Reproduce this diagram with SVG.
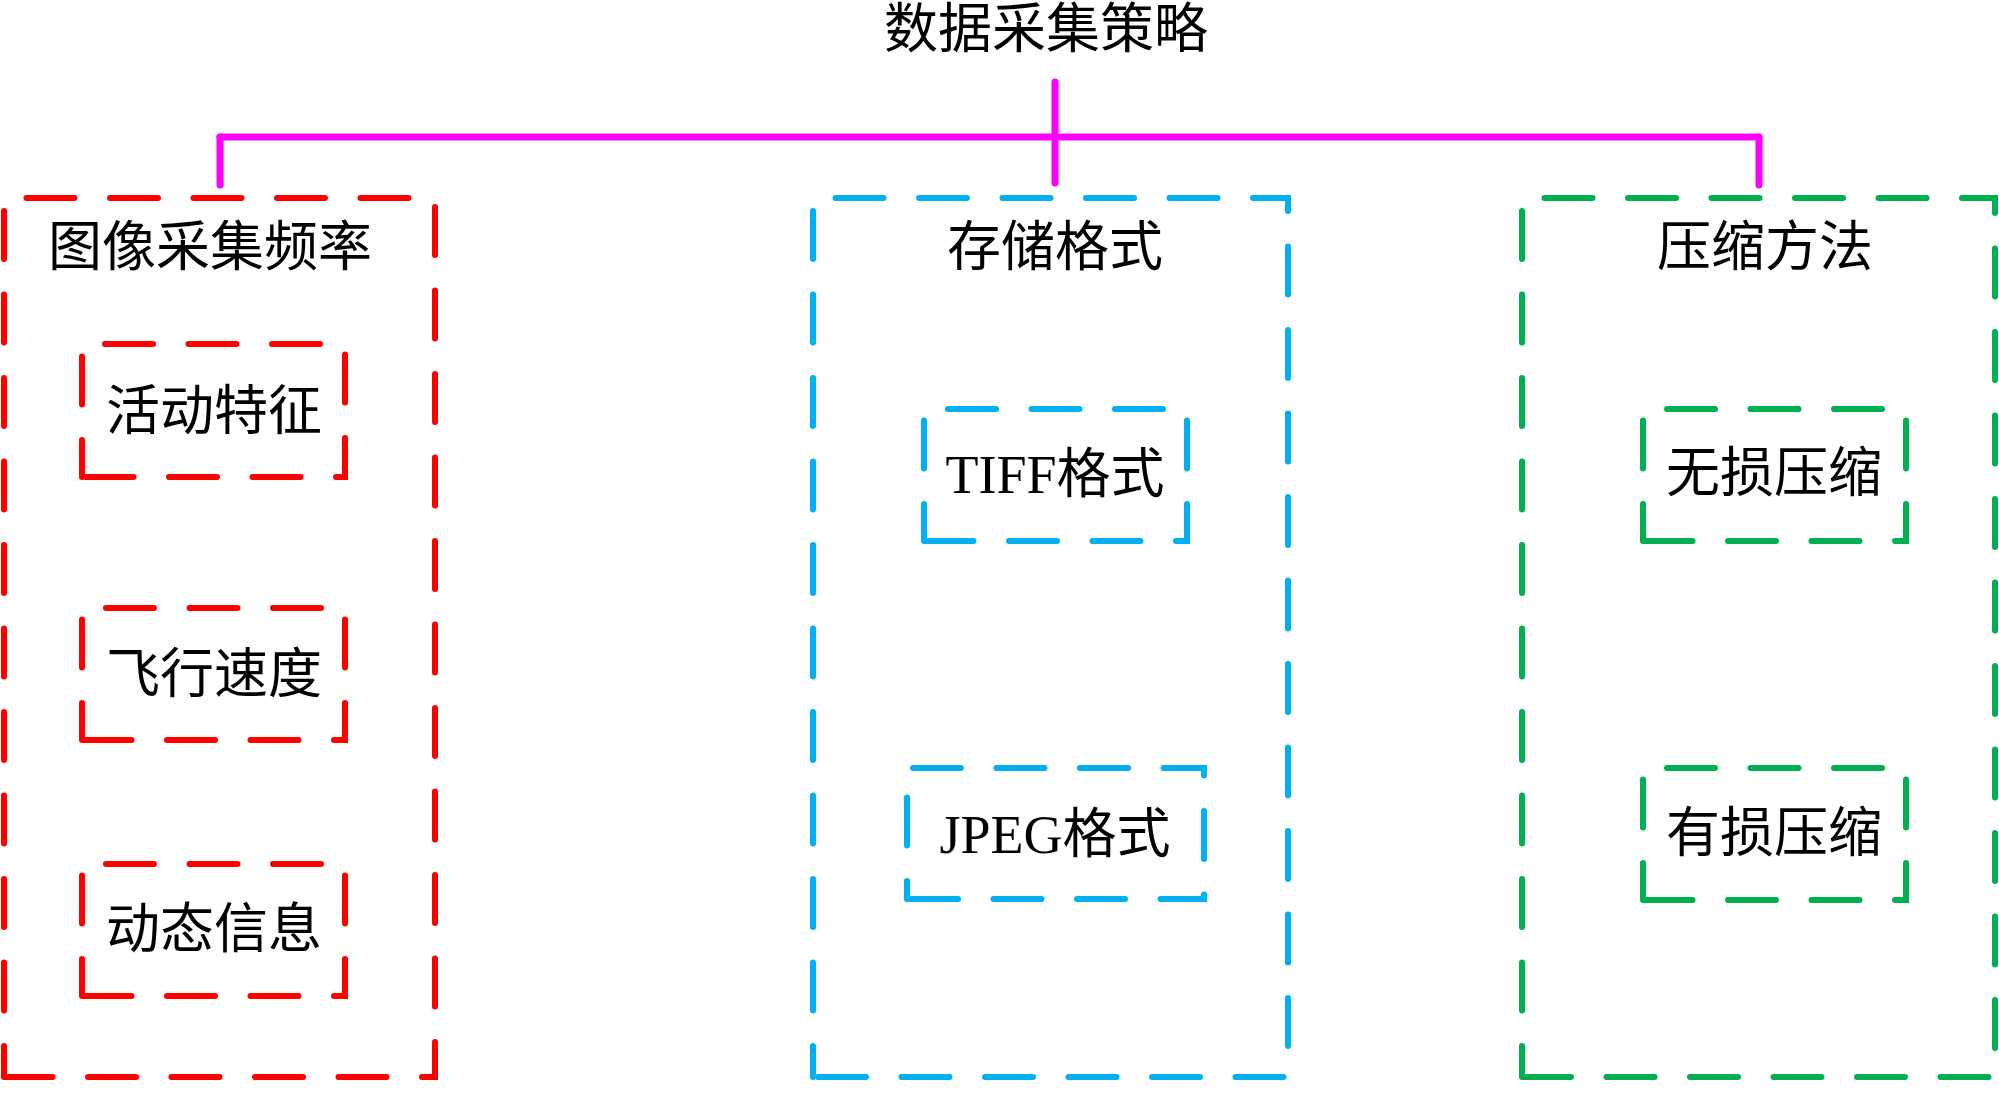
<svg xmlns="http://www.w3.org/2000/svg" width="1999" height="1095" viewBox="0 0 1999 1095">
<style>
.box{fill:none;stroke-width:6;stroke-dasharray:48 35.5;stroke-linecap:round;stroke-linejoin:miter}
.red{stroke:#FF0000}
.blue{stroke:#00B0F0}
.green{stroke:#00B050}
.big{stroke-dashoffset:17}
.small{stroke-dashoffset:11}
.lbl{font-family:"Liberation Serif","Noto Sans CJK SC",serif;font-size:54px;fill:#000;text-anchor:middle}
.conn{stroke:#FF00FF;stroke-width:7;stroke-linecap:round;fill:none}
</style>
<rect width="1999" height="1095" fill="#fff"/>
<g id="title">
<text class="lbl" x="1046" y="48">数据采集策略</text>
</g>
<g id="connectors">
<line class="conn" x1="1055" y1="82" x2="1055" y2="183"/>
<line class="conn" x1="220" y1="137" x2="1759" y2="137"/>
<line class="conn" x1="220" y1="137" x2="220" y2="185"/>
<line class="conn" x1="1759" y1="137" x2="1759" y2="185"/>
</g>
<g id="image-frequency">
<path class="box red big" d="M4,1077 V198 H435 V1077 Z"/>
<text class="lbl" x="210" y="266">图像采集频率</text>
</g>
<g id="activity">
<path class="box red small" d="M82,477 V344 H345 V477 Z"/>
<text class="lbl" x="214" y="430">活动特征</text>
</g>
<g id="speed">
<path class="box red small" d="M82,740 V608 H345 V740 Z"/>
<text class="lbl" x="214" y="693">飞行速度</text>
</g>
<g id="dynamic">
<path class="box red small" d="M82,996 V864 H345 V996 Z"/>
<text class="lbl" x="214" y="948">动态信息</text>
</g>
<g id="storage-format">
<path class="box blue big" d="M813,1077 V198 H1288 V1077 Z"/>
<text class="lbl" x="1055" y="266">存储格式</text>
</g>
<g id="tiff">
<path class="box blue small" d="M924,541 V409 H1187 V541 Z"/>
<text class="lbl" x="1055" y="493">TIFF格式</text>
</g>
<g id="jpeg">
<path class="box blue" style="stroke-dashoffset:30" d="M907,899 V768 H1204 V899 Z"/>
<text class="lbl" x="1055" y="853">JPEG格式</text>
</g>
<g id="compression">
<path class="box green big" d="M1522,1077 V198 H1995 V1077 Z"/>
<text class="lbl" x="1765" y="266">压缩方法</text>
</g>
<g id="lossless">
<path class="box green small" d="M1643,541 V409 H1906 V541 Z"/>
<text class="lbl" x="1774" y="492">无损压缩</text>
</g>
<g id="lossy">
<path class="box green small" d="M1643,900 V768 H1906 V900 Z"/>
<text class="lbl" x="1774" y="852">有损压缩</text>
</g>
</svg>
